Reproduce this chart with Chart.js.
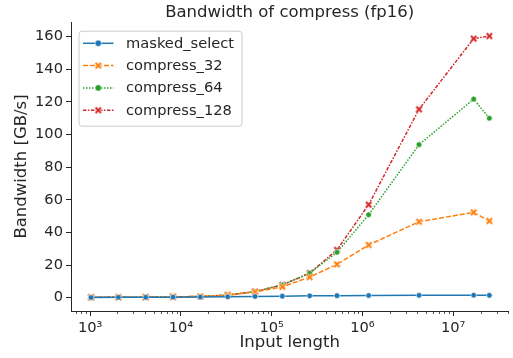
<!DOCTYPE html>
<html>
<head>
<meta charset="utf-8">
<script src="https://cdn.jsdelivr.net/npm/chart.js@4/dist/chart.umd.min.js"></script>
<style>
  html, body { margin: 0; padding: 0; background: #fff; }
  #wrap { width: 513px; height: 358px; }
</style>
</head>
<body>
<div id="wrap"><canvas id="chart" width="513" height="358"></canvas></div>
<script>
// input lengths (x) and bandwidths in GB/s
const inputLengths = [1024, 2048, 4096, 8192, 16384, 32768, 65536, 131072, 262144, 524288, 1170000, 4200000, 16800000, 25000000];
const maskedSelect = [0.1, 0.2, 0.2, 0.3, 0.4, 0.5, 0.7, 0.9, 1.1, 1.2, 1.3, 1.4, 1.5, 1.4];
const compress32   = [0.2, 0.2, 0.3, 0.5, 0.7, 1.5, 3.5, 6.6, 12.6, 20.4, 32.3, 46.5, 52.3, 47.0];
const compress64   = [0.2, 0.2, 0.3, 0.5, 0.7, 1.6, 3.7, 7.8, 15.0, 27.8, 50.8, 93.8, 121.7, 110.0];
const compress128  = [0.2, 0.2, 0.3, 0.5, 0.7, 1.6, 3.7, 7.8, 15.0, 29.3, 57.0, 115.5, 158.8, 160.4];
const yTicks = [0, 20, 40, 60, 80, 100, 120, 140, 160];
const xTicks = [1e3, 1e4, 1e5, 1e6, 1e7];
const supers = { 3: '\u00b3', 4: '\u2074', 5: '\u2075', 6: '\u2076', 7: '\u2077' };
const chartTitle = 'Bandwidth of compress (fp16)';

const ink = '#262626';
const fontFamily = '"DejaVu Sans", sans-serif';

// filled "X" marker with white edge, like matplotlib's 'X'
function makeX(color) {
    const c = document.createElement('canvas');
    c.width = 9; c.height = 9;
    const g = c.getContext('2d');
    const a = 1.8, b = 7.2;
    g.lineCap = 'butt';
    g.strokeStyle = '#fff'; g.lineWidth = 3.2;
    g.beginPath(); g.moveTo(a, a); g.lineTo(b, b); g.moveTo(b, a); g.lineTo(a, b); g.stroke();
    g.strokeStyle = color; g.lineWidth = 2;
    g.beginPath(); g.moveTo(a, a); g.lineTo(b, b); g.moveTo(b, a); g.lineTo(a, b); g.stroke();
    return c;
}

const series = [
    { label: 'masked_select', data: maskedSelect, color: '#1f77b4', dash: [], marker: 'circle' },
    { label: 'compress_32', data: compress32, color: '#ff7f0e', dash: [5, 2], marker: 'x' },
    { label: 'compress_64', data: compress64, color: '#2ca02c', dash: [1.5, 1.5], marker: 'circle' },
    { label: 'compress_128', data: compress128, color: '#d62728', dash: [3.5, 1.5, 1.5, 1.5], marker: 'x' }
];

const datasets = series.map(s => ({
    label: s.label,
    data: s.data.map((v, i) => ({ x: inputLengths[i], y: v })),
    borderColor: s.color,
    backgroundColor: s.color,
    borderWidth: 1.5,
    borderDash: s.dash,
    pointStyle: s.marker === 'x' ? makeX(s.color) : 'circle',
    pointRadius: 2.8,
    pointBorderColor: '#fff',
    pointBorderWidth: 0.6,
    pointBackgroundColor: s.color,
    tension: 0
}));

// title over the plot area, minor ticks on the log axis, matplotlib-like legend
const extrasPlugin = {
    id: 'extras',
    afterDraw(chart) {
        const ctx = chart.ctx;
        const xs = chart.scales.x;
        const area = chart.chartArea;
        ctx.save();

        ctx.fillStyle = ink;
        ctx.font = '16.5px ' + fontFamily;
        ctx.textAlign = 'center';
        ctx.textBaseline = 'middle';
        ctx.fillText(chartTitle, (area.left + area.right) / 2, 12.5);
        ctx.textAlign = 'left';

        ctx.strokeStyle = ink;
        ctx.lineWidth = 0.8;
        for (let k = 2; k <= 7; k++) {
            for (let m = 2; m <= 9; m++) {
                const v = m * Math.pow(10, k);
                if (v < xs.min || v > xs.max) continue;
                const px = Math.round(xs.getPixelForValue(v)) + 0.5;
                ctx.beginPath();
                ctx.moveTo(px, area.bottom);
                ctx.lineTo(px, area.bottom + 3);
                ctx.stroke();
            }
        }

        // legend
        const bx = area.left + 7.5, by = area.top + 8.7, bw = 163, bh = 95;
        ctx.fillStyle = 'rgba(255,255,255,0.8)';
        ctx.strokeStyle = '#cccccc';
        ctx.lineWidth = 1;
        ctx.beginPath();
        ctx.roundRect(bx + 0.5, by + 0.5, bw, bh, 3);
        ctx.fill();
        ctx.stroke();
        ctx.font = '14.67px ' + fontFamily;
        ctx.textBaseline = 'middle';
        chart.data.datasets.forEach((ds, i) => {
            const y = by + 12.6 + i * 22.3;
            const x0 = bx + 4.5, x1 = x0 + 30.5;
            ctx.strokeStyle = ds.borderColor;
            ctx.lineWidth = ds.borderWidth;
            ctx.setLineDash(ds.borderDash);
            ctx.beginPath();
            ctx.moveTo(x0, y);
            ctx.lineTo(x1, y);
            ctx.stroke();
            ctx.setLineDash([]);
            const mx = (x0 + x1) / 2;
            if (ds.pointStyle === 'circle') {
                ctx.fillStyle = ds.borderColor;
                ctx.strokeStyle = '#fff';
                ctx.lineWidth = 0.6;
                ctx.beginPath();
                ctx.arc(mx, y, 3.2, 0, Math.PI * 2);
                ctx.fill();
                ctx.stroke();
            } else {
                ctx.drawImage(ds.pointStyle, mx - 4.5, y - 4.5);
            }
            ctx.fillStyle = ink;
            ctx.fillText(ds.label, bx + 47.5, y + 0.5);
        });
        ctx.restore();
    }
};

new Chart(document.getElementById('chart'), {
    type: 'line',
    data: { datasets },
    plugins: [extrasPlugin],
    options: {
        responsive: false,
        animation: false,
        layout: { padding: { left: 0, right: 2.5, top: 22, bottom: 0 } },
        plugins: {
            legend: { display: false },
            tooltip: { enabled: false },
            title: { display: false }
        },
        scales: {
            x: {
                type: 'logarithmic',
                min: Math.pow(10, 2.789),
                max: Math.pow(10, 7.608),
                afterBuildTicks: (scale) => { scale.ticks = xTicks.map(v => ({ value: v, major: true })); },
                afterFit: (scale) => { scale.height = 47; },
                ticks: {
                    color: ink,
                    font: { family: fontFamily, size: 14.67 },
                    padding: 3,
                    maxRotation: 0,
                    autoSkip: false,
                    callback: (v) => '10' + supers[Math.round(Math.log10(v))]
                },
                grid: { display: true, drawOnChartArea: false, drawTicks: true, tickLength: 5, tickColor: ink, tickWidth: 1 },
                border: { display: true, color: ink, width: 1 },
                title: {
                    display: true,
                    text: 'Input length',
                    color: ink,
                    font: { family: fontFamily, size: 16.5 },
                    padding: { top: 0, bottom: 5 }
                }
            },
            y: {
                type: 'linear',
                min: -8.2,
                max: 169,
                afterBuildTicks: (scale) => { scale.ticks = yTicks.map(v => ({ value: v })); },
                afterFit: (scale) => { scale.width = 71; },
                ticks: {
                    color: ink,
                    font: { family: fontFamily, size: 14.67 },
                    padding: 3
                },
                grid: { display: true, drawOnChartArea: false, drawTicks: true, tickLength: 5, tickColor: ink, tickWidth: 1 },
                border: { display: true, color: ink, width: 1 },
                title: {
                    display: true,
                    text: 'Bandwidth [GB/s]',
                    color: ink,
                    font: { family: fontFamily, size: 16.5 },
                    padding: { top: 12, bottom: 0 }
                }
            }
        }
    }
});
</script>
</body>
</html>
